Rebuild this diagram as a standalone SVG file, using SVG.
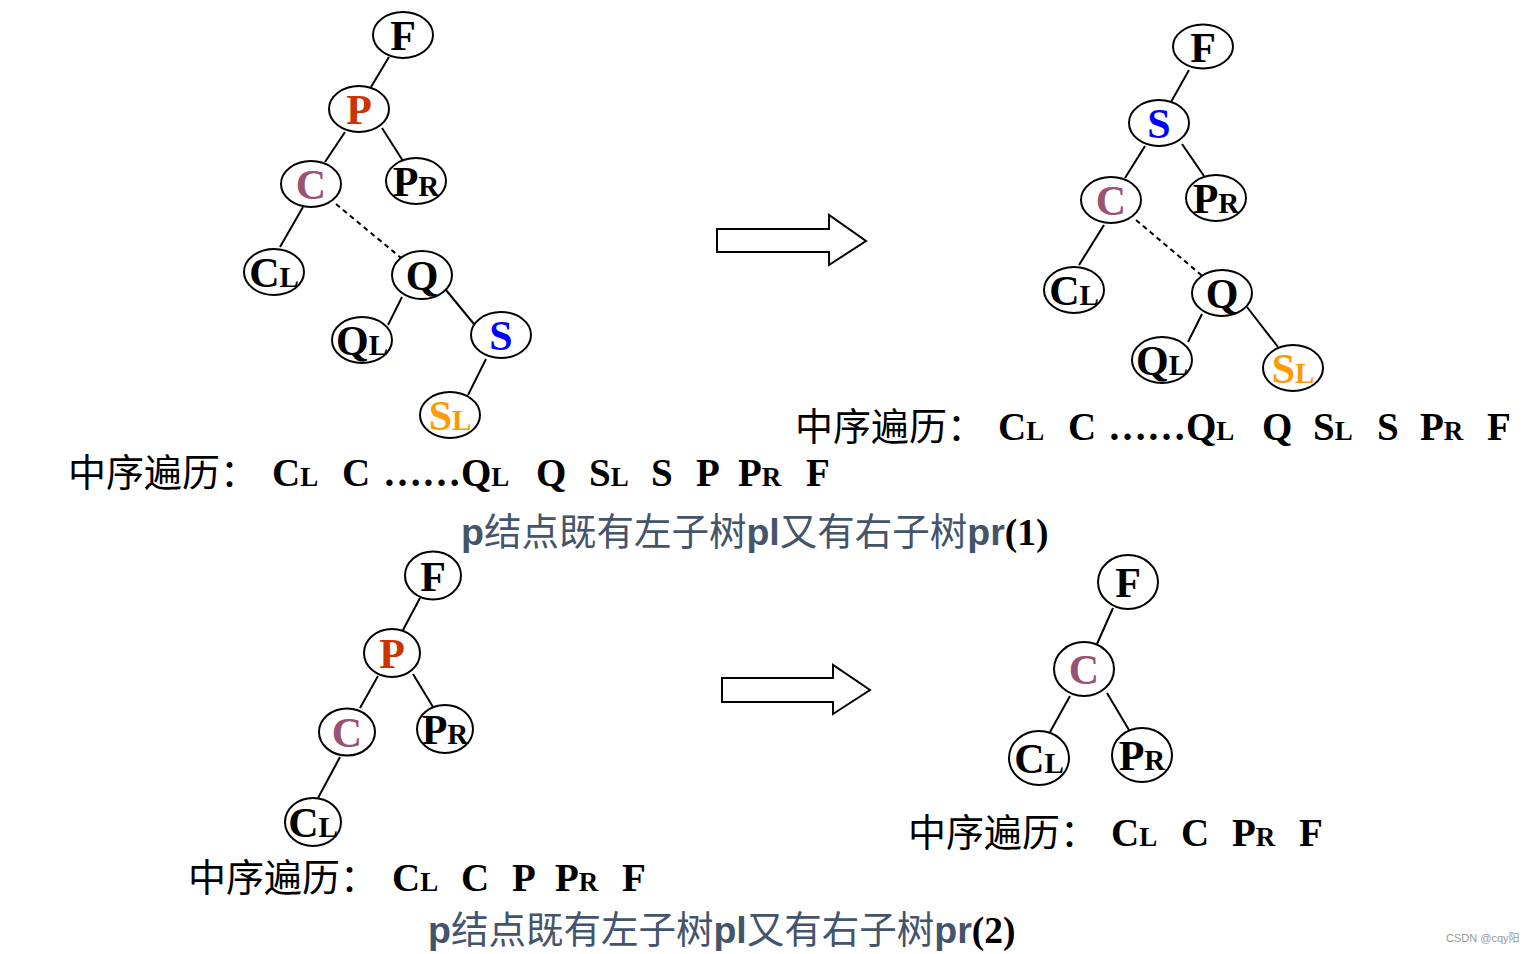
<svg xmlns="http://www.w3.org/2000/svg" width="1533" height="954" viewBox="0 0 1533 954">
<style>
.n ellipse{fill:#fff;stroke:#000;stroke-width:2}
.n text{font-family:"Liberation Serif",serif;font-weight:bold;font-size:42px;text-anchor:middle}
.sm{font-size:29px}
.n text.cc{fill:#985274}
.n text.cp{fill:#CC3300}
.n text.cs{fill:#0000FF}
.n text.co{fill:#FF9900}
.e line{stroke:#000;stroke-width:2}
.e line.d{stroke-dasharray:5,4}
.arr{fill:#fff;stroke:#000;stroke-width:2}
.cjk{font-family:"Noto Sans CJK SC",sans-serif;font-size:38px;font-weight:normal;fill:#000}
.lat{font-family:"Liberation Serif",serif;font-weight:bold;font-size:39px;fill:#000}
.ls{font-size:27px}
.pc{font-size:37.5px;fill:#44546A}
.pa{font-family:"Liberation Sans",sans-serif;font-weight:bold}
.pz{font-family:"Noto Sans CJK SC",sans-serif;font-weight:normal}
.pn{font-family:"Liberation Serif",serif;font-weight:bold;fill:#000}
</style>

<g id="connectors" class="e">
<line x1="389" y1="57" x2="371" y2="87"/>
<line x1="345" y1="132" x2="325" y2="162"/>
<line x1="382" y1="128" x2="403" y2="161"/>
<line x1="303" y1="207" x2="280" y2="247"/>
<line class="d" x1="336" y1="204" x2="406" y2="262"/>
<line x1="402" y1="297" x2="388" y2="325"/>
<line x1="446" y1="290" x2="478" y2="329"/>
<line x1="486" y1="359" x2="468" y2="395"/>
<line x1="1189" y1="70" x2="1171" y2="102"/>
<line x1="1145" y1="146" x2="1125" y2="178"/>
<line x1="1182" y1="144" x2="1204" y2="176"/>
<line x1="1104" y1="225" x2="1079" y2="265"/>
<line class="d" x1="1136" y1="220" x2="1206" y2="279"/>
<line x1="1202" y1="314" x2="1188" y2="342"/>
<line x1="1247" y1="307" x2="1278" y2="347"/>
<line x1="420" y1="598" x2="403" y2="630"/>
<line x1="378" y1="676" x2="360" y2="708"/>
<line x1="413" y1="674" x2="433" y2="707"/>
<line x1="340" y1="757" x2="318" y2="798"/>
<line x1="1113" y1="608" x2="1097" y2="644"/>
<line x1="1070" y1="696" x2="1050" y2="732"/>
<line x1="1107" y1="693" x2="1129" y2="730"/>
</g>

<polygon id="arrow1" class="arr" points="717,229 829,229 829,215 866,241 829,265 829,252 717,252"/>
<polygon id="arrow2" class="arr" points="722,678 833,678 833,665 870,690 833,714 833,702 722,702"/>

<g id="tl-F" class="n"><ellipse cx="403" cy="35" rx="30" ry="23"/><text x="403" y="50">F</text></g>
<g id="tl-P" class="n"><ellipse cx="359" cy="109" rx="30" ry="23"/><text x="359" y="124" class="cp">P</text></g>
<g id="tl-C" class="n"><ellipse cx="311" cy="184" rx="30" ry="23"/><text x="311" y="199" class="cc">C</text></g>
<g id="tl-PR" class="n"><ellipse cx="416" cy="181" rx="30" ry="23"/><text x="416" y="196">P<tspan class="sm">R</tspan></text></g>
<g id="tl-CL" class="n"><ellipse cx="274" cy="272" rx="30" ry="23"/><text x="274" y="287">C<tspan class="sm">L</tspan></text></g>
<g id="tl-Q" class="n"><ellipse cx="422" cy="275" rx="30" ry="24"/><text x="422" y="290">Q</text></g>
<g id="tl-QL" class="n"><ellipse cx="362" cy="340" rx="30" ry="23"/><text x="362" y="355">Q<tspan class="sm">L</tspan></text></g>
<g id="tl-S" class="n"><ellipse cx="501" cy="335" rx="30" ry="23"/><text x="501" y="350" class="cs">S</text></g>
<g id="tl-SL" class="n"><ellipse cx="450" cy="415" rx="30" ry="23"/><text x="450" y="430" class="co">S<tspan class="sm">L</tspan></text></g>

<g id="tr-F" class="n"><ellipse cx="1203" cy="46.5" rx="30" ry="22"/><text x="1203" y="62">F</text></g>
<g id="tr-S" class="n"><ellipse cx="1159" cy="123" rx="30" ry="23"/><text x="1159" y="138" class="cs">S</text></g>
<g id="tr-C" class="n"><ellipse cx="1111" cy="200" rx="30" ry="23"/><text x="1111" y="215" class="cc">C</text></g>
<g id="tr-PR" class="n"><ellipse cx="1216" cy="198" rx="30" ry="23"/><text x="1216" y="213">P<tspan class="sm">R</tspan></text></g>
<g id="tr-CL" class="n"><ellipse cx="1074" cy="290" rx="30" ry="23"/><text x="1074" y="305">C<tspan class="sm">L</tspan></text></g>
<g id="tr-Q" class="n"><ellipse cx="1222" cy="293" rx="30" ry="23"/><text x="1222" y="308">Q</text></g>
<g id="tr-QL" class="n"><ellipse cx="1162" cy="360" rx="30" ry="23"/><text x="1162" y="375">Q<tspan class="sm">L</tspan></text></g>
<g id="tr-SL" class="n"><ellipse cx="1293" cy="368" rx="30" ry="23"/><text x="1293" y="383" class="co">S<tspan class="sm">L</tspan></text></g>

<g id="bl-F" class="n"><ellipse cx="433" cy="575.5" rx="28" ry="24"/><text x="433" y="591">F</text></g>
<g id="bl-P" class="n"><ellipse cx="392" cy="653" rx="28" ry="24"/><text x="392" y="668" class="cp">P</text></g>
<g id="bl-C" class="n"><ellipse cx="347" cy="732" rx="28" ry="23.5"/><text x="347" y="747" class="cc">C</text></g>
<g id="bl-PR" class="n"><ellipse cx="445" cy="729" rx="28" ry="24"/><text x="445" y="744">P<tspan class="sm">R</tspan></text></g>
<g id="bl-CL" class="n"><ellipse cx="313" cy="822" rx="28" ry="24"/><text x="313" y="837">C<tspan class="sm">L</tspan></text></g>

<g id="br-F" class="n"><ellipse cx="1128" cy="582" rx="30" ry="27"/><text x="1128" y="597">F</text></g>
<g id="br-C" class="n"><ellipse cx="1084" cy="669" rx="30" ry="27"/><text x="1084" y="684" class="cc">C</text></g>
<g id="br-CL" class="n"><ellipse cx="1039" cy="758" rx="30" ry="27"/><text x="1039" y="773">C<tspan class="sm">L</tspan></text></g>
<g id="br-PR" class="n"><ellipse cx="1142" cy="755" rx="30" ry="27"/><text x="1142" y="770">P<tspan class="sm">R</tspan></text></g>

<text id="cap-tl" y="486"><tspan x="68" class="cjk">中序遍历：</tspan><tspan x="272" class="lat">C<tspan class="ls">L</tspan></tspan><tspan x="342" class="lat">C</tspan><tspan x="383" class="lat">……Q<tspan class="ls">L</tspan></tspan><tspan x="536" class="lat">Q</tspan><tspan x="589" class="lat">S<tspan class="ls">L</tspan></tspan><tspan x="651" class="lat">S</tspan><tspan x="696" class="lat">P</tspan><tspan x="738" class="lat">P<tspan class="ls">R</tspan></tspan><tspan x="806" class="lat">F</tspan></text>

<text id="cap-tr" y="440"><tspan x="795" class="cjk">中序遍历：</tspan><tspan x="998" class="lat">C<tspan class="ls">L</tspan></tspan><tspan x="1068" class="lat">C</tspan><tspan x="1108" class="lat">……Q<tspan class="ls">L</tspan></tspan><tspan x="1262" class="lat">Q</tspan><tspan x="1313" class="lat">S<tspan class="ls">L</tspan></tspan><tspan x="1377" class="lat">S</tspan><tspan x="1420" class="lat">P<tspan class="ls">R</tspan></tspan><tspan x="1487" class="lat">F</tspan></text>

<text id="cap-1" x="461" y="545" class="pc"><tspan class="pa">p</tspan><tspan class="pz">结点既有左子树</tspan><tspan class="pa">pl</tspan><tspan class="pz">又有右子树</tspan><tspan class="pa">pr</tspan><tspan class="pn">(1)</tspan></text>

<text id="cap-bl" y="891"><tspan x="188" class="cjk">中序遍历：</tspan><tspan x="392" class="lat">C<tspan class="ls">L</tspan></tspan><tspan x="461" class="lat">C</tspan><tspan x="512" class="lat">P</tspan><tspan x="555" class="lat">P<tspan class="ls">R</tspan></tspan><tspan x="622" class="lat">F</tspan></text>

<text id="cap-br" y="846"><tspan x="908" class="cjk">中序遍历：</tspan><tspan x="1111" class="lat">C<tspan class="ls">L</tspan></tspan><tspan x="1181" class="lat">C</tspan><tspan x="1232" class="lat">P<tspan class="ls">R</tspan></tspan><tspan x="1299" class="lat">F</tspan></text>

<text id="cap-2" x="428" y="943" class="pc"><tspan class="pa">p</tspan><tspan class="pz">结点既有左子树</tspan><tspan class="pa">pl</tspan><tspan class="pz">又有右子树</tspan><tspan class="pa">pr</tspan><tspan class="pn">(2)</tspan></text>

<text id="watermark" x="1446" y="942" font-family="Liberation Sans,Noto Sans CJK SC,sans-serif" font-size="11" fill="#999">CSDN @cqy阳</text>
</svg>
